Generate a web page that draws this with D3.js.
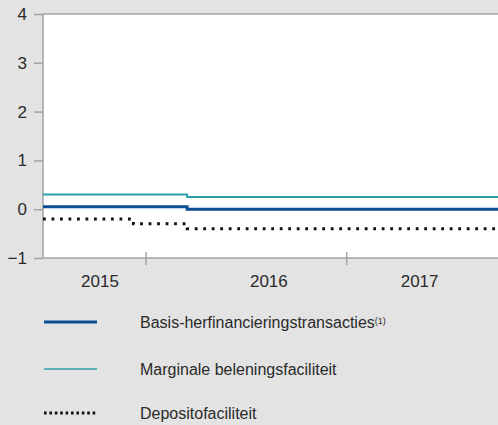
<!DOCTYPE html>
<html>
<head>
<meta charset="utf-8">
<script src="https://cdn.jsdelivr.net/npm/d3@7"></script>
<style>
  html, body { margin: 0; padding: 0; background: #e3e3e3; }
  svg { display: block; font-family: "Liberation Sans", Arial, sans-serif; }
</style>
</head>
<body>
<svg id="chart" width="498" height="425"></svg>
<script>
// Data (ECB key rates, %)
const parseDate = d3.timeParse('%Y-%m-%d');
const xDomain = ['2015-06-27', '2017-10-04'];
const mroDates = ['2015-06-27', '2016-03-16', '2017-10-04'];
const mroValues = [0.05, 0.00, 0.00];
const mlfDates = ['2015-06-27', '2016-03-16', '2017-10-04'];
const mlfValues = [0.30, 0.25, 0.25];
const dfDates = ['2015-06-27', '2015-12-09', '2016-03-16', '2017-10-04'];
const dfValues = [-0.20, -0.30, -0.40, -0.40];
const yTicks = [-1, 0, 1, 2, 3, 4];
const yearTicks = ['2016-01-01', '2017-01-01'];
const yearLabels = ['2015', '2016', '2017'];
const yearLabelDates = ['2015-10-09', '2016-08-12', '2017-05-14'];
const legendLabels = ['Basis-herfinancieringstransacties', 'Marginale beleningsfaciliteit', 'Depositofaciliteit'];

const width = 498, height = 425;
const margin = { top: 14, left: 43, bottom: 258 };

const svg = d3.select('#chart');

svg.append('rect').attr('width', width).attr('height', height).attr('fill', '#e3e3e3');

const x = d3.scaleTime()
    .domain(xDomain.map(parseDate))
    .range([margin.left, width]);

const y = d3.scaleLinear()
    .domain([-1, 4])
    .range([margin.bottom, margin.top]);

// Plot background
svg.append('rect')
    .attr('x', margin.left)
    .attr('y', margin.top)
    .attr('width', width - margin.left)
    .attr('height', margin.bottom - margin.top)
    .attr('fill', '#ffffff');

// Top border
svg.append('line')
    .attr('x1', margin.left).attr('x2', width)
    .attr('y1', margin.top).attr('y2', margin.top)
    .attr('stroke', '#a3a3a3').attr('stroke-width', 1.5);

// Y axis
const yAxis = svg.append('g')
    .attr('transform', `translate(${margin.left},0)`)
    .call(d3.axisLeft(y).tickValues(yTicks).tickSize(9).tickPadding(7)
        .tickFormat(d => d < 0 ? '\u2212' + Math.abs(d) : d));
yAxis.select('.domain').remove();
yAxis.selectAll('.tick line').attr('stroke', '#a3a3a3').attr('stroke-width', 1.5);
yAxis.selectAll('.tick text').attr('fill', '#2a2a2a').style('font-size', '17px');
svg.append('line')
    .attr('x1', margin.left).attr('x2', margin.left)
    .attr('y1', margin.top).attr('y2', margin.bottom)
    .attr('stroke', '#a3a3a3').attr('stroke-width', 1.5);

// X axis
svg.append('line')
    .attr('x1', margin.left).attr('x2', width)
    .attr('y1', margin.bottom).attr('y2', margin.bottom)
    .attr('stroke', '#a3a3a3').attr('stroke-width', 1.5);
svg.append('g')
    .selectAll('line')
    .data(yearTicks.map(parseDate))
    .join('line')
    .attr('x1', d => x(d)).attr('x2', d => x(d))
    .attr('y1', margin.bottom - 6).attr('y2', margin.bottom + 7)
    .attr('stroke', '#a3a3a3').attr('stroke-width', 1.5);
svg.append('g')
    .selectAll('text')
    .data(yearLabels)
    .join('text')
    .attr('x', (d, i) => x(parseDate(yearLabelDates[i])))
    .attr('y', 287)
    .attr('text-anchor', 'middle')
    .attr('fill', '#2a2a2a')
    .style('font-size', '17px')
    .text(d => d);

// Lines
const line = d3.line()
    .x(d => x(d.date))
    .y(d => y(d.value))
    .curve(d3.curveStepAfter);

function series(dates, values) {
    return dates.map((d, i) => ({ date: parseDate(d), value: values[i] }));
}

svg.append('path')
    .datum(series(mlfDates, mlfValues))
    .attr('d', line)
    .attr('fill', 'none')
    .attr('stroke', '#2a9fa7')
    .attr('stroke-width', 2);

svg.append('path')
    .datum(series(mroDates, mroValues))
    .attr('d', line)
    .attr('fill', 'none')
    .attr('stroke', '#0c4f97')
    .attr('stroke-width', 3);

svg.append('path')
    .datum(series(dfDates, dfValues))
    .attr('d', line)
    .attr('fill', 'none')
    .attr('stroke', '#111')
    .attr('stroke-width', 3)
    .attr('stroke-dasharray', '2.8,5.7');

// Legend
const legendStyles = [
    { color: '#0c4f97', width: 3, dash: null },
    { color: '#2a9fa7', width: 1.5, dash: null },
    { color: '#111', width: 3, dash: '2.6,2.8' }
];
const legendY = [322, 369, 413];

const legend = svg.append('g')
    .selectAll('g')
    .data(legendLabels)
    .join('g')
    .attr('transform', (d, i) => `translate(0,${legendY[i]})`);

legend.append('line')
    .attr('x1', 44).attr('x2', 97)
    .attr('y1', 0).attr('y2', 0)
    .attr('stroke', (d, i) => legendStyles[i].color)
    .attr('stroke-width', (d, i) => legendStyles[i].width)
    .attr('stroke-dasharray', (d, i) => legendStyles[i].dash);

const legendText = legend.append('text')
    .attr('x', 140)
    .attr('y', 0)
    .attr('dy', '0.35em')
    .attr('fill', '#2a2a2a')
    .style('font-size', '16px')
    .text(d => d);

legendText.filter((d, i) => i === 0)
    .append('tspan')
    .attr('dy', '-0.45em')
    .style('font-size', '9px')
    .text('(1)');
</script>
</body>
</html>
